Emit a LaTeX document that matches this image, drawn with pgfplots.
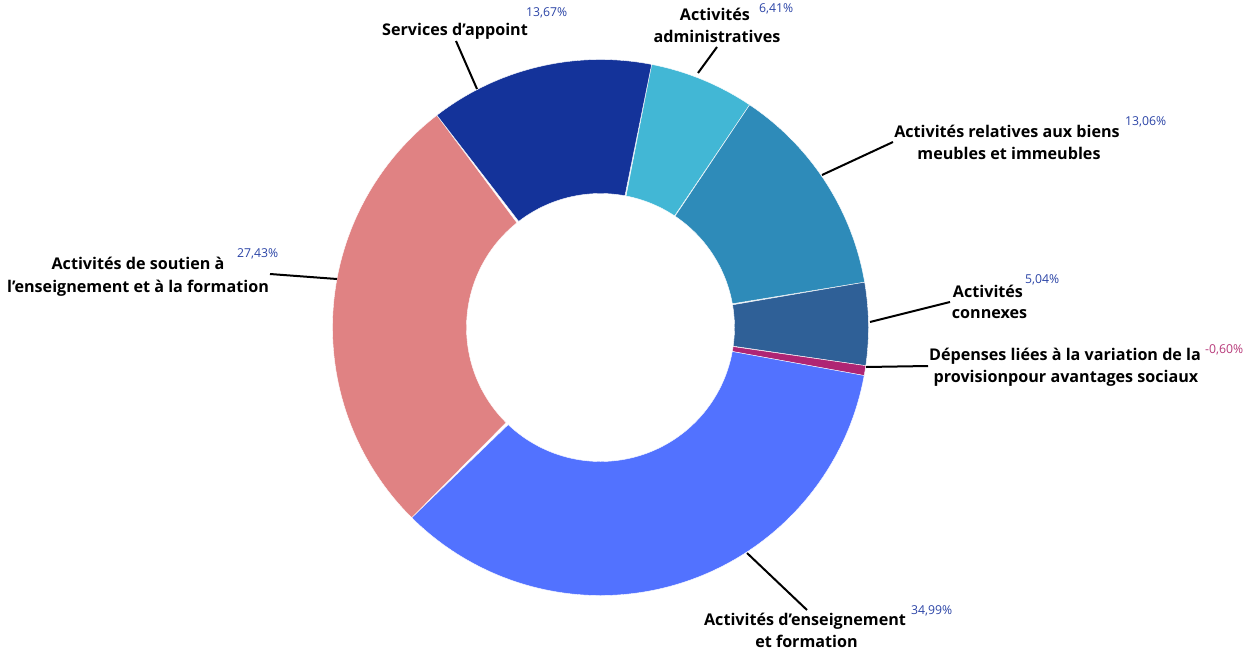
\documentclass[border=0pt]{standalone}
\usepackage{pgfplots}
\pgfplotsset{compat=1.18}
\usepackage{pgfplotstable}
\usepackage{fontspec}
\setmainfont{Open Sans}
\definecolor{sl0}{HTML}{42B7D5}
\definecolor{sl1}{HTML}{2E8BB9}
\definecolor{sl2}{HTML}{2F6097}
\definecolor{sl3}{HTML}{AF2573}
\definecolor{sl4}{HTML}{5272FF}
\definecolor{sl5}{HTML}{E08283}
\definecolor{sl6}{HTML}{14339A}
\definecolor{pctblue}{HTML}{2B44A6}
\definecolor{pctmag}{HTML}{B73A7A}

% slice values (percent), clockwise order starting with "Activites administratives"
\pgfplotstableread[col sep=comma]{
name,value
admin,6.41
relatives,13.06
connexes,5.04
depenses,-0.60
enseignement,34.99
soutien,27.43
services,13.67
}\slices

\newcommand\startang{79}
\xdef\tot{0}
\foreach \i in {0,...,6}{%
  \pgfplotstablegetelem{\i}{value}\of\slices
  \pgfmathsetmacro\tmp{\tot+abs(\pgfplotsretval)}%
  \global\let\tot\tmp}
\xdef\cur{\startang}
\foreach \i in {0,...,6}{%
  \pgfplotstablegetelem{\i}{value}\of\slices
  \pgfmathsetmacro\nxt{\cur-360*abs(\pgfplotsretval)/\tot}%
  \expandafter\xdef\csname sa\i\endcsname{\cur}%
  \expandafter\xdef\csname ea\i\endcsname{\nxt}%
  \global\let\cur\nxt}

\newcommand\lab[1]{\fontsize{16.2}{19}\selectfont\bfseries #1}
\newcommand\pct{\fontsize{12.3}{14}\selectfont}

\begin{document}
\begin{tikzpicture}
\begin{axis}[name=ax, at={(0,0)}, anchor=south west,
  width=1246bp, height=655bp, scale only axis, hide axis,
  xmin=0, xmax=1246, ymin=0, ymax=655, y dir=reverse, clip=false]
\pgfplotsinvokeforeach{0,...,6}{%
  \edef\doslice{\noexpand\addplot[fill=sl#1, draw=white, line width=0.4pt,
    domain=0:2, samples=201, variable=\noexpand\t]
    ({600.5+(268-134*(\noexpand\t>1.005))*cos(\csname sa#1\endcsname+(\csname ea#1\endcsname-\csname sa#1\endcsname)*(1-abs(\noexpand\t-1)))},
     {327.5-(268-134*(\noexpand\t>1.005))*sin(\csname sa#1\endcsname+(\csname ea#1\endcsname-\csname sa#1\endcsname)*(1-abs(\noexpand\t-1)))}) -- cycle;}%
  \doslice
}
% connector lines
\addplot[black, line width=2bp] coordinates {(456,41) (477,89)};
\addplot[black, line width=2bp] coordinates {(717,47) (698,73)};
\addplot[black, line width=2bp] coordinates {(822,175) (893,142)};
\addplot[black, line width=2bp] coordinates {(870,322) (950,302)};
\addplot[black, line width=2bp] coordinates {(866,367) (928,366)};
\addplot[black, line width=2bp] coordinates {(270,274) (337,279)};
\addplot[black, line width=2bp] coordinates {(747,553) (807,610)};
% labels
\node[anchor=base] at (axis cs:455,36) {\lab{Services d’appoint}};
\node[anchor=base west, text=pctblue, inner sep=0pt] at (axis cs:526,17) {\pct 13,67\%};
\node[anchor=base] at (axis cs:715,21) {\lab{Activités}};
\node[anchor=base] at (axis cs:717,43) {\lab{administratives}};
\node[anchor=base west, text=pctblue, inner sep=0pt] at (axis cs:759,13) {\pct 6,41\%};
\node[anchor=base] at (axis cs:1007,137) {\lab{Activités relatives aux biens}};
\node[anchor=base] at (axis cs:1009,159) {\lab{meubles et immeubles}};
\node[anchor=base west, text=pctblue, inner sep=0pt] at (axis cs:1125,125) {\pct 13,06\%};
\node[anchor=base] at (axis cs:988,297) {\lab{Activités}};
\node[anchor=base] at (axis cs:989.5,318) {\lab{connexes}};
\node[anchor=base west, text=pctblue, inner sep=0pt] at (axis cs:1025,283) {\pct 5,04\%};
\node[anchor=base] at (axis cs:1065,360) {\lab{Dépenses liées à la variation de la}};
\node[anchor=base] at (axis cs:1066,382) {\lab{provisionpour avantages sociaux}};
\node[anchor=base west, text=pctmag, inner sep=0pt] at (axis cs:1205,353) {\pct -0,60\%};
\node[anchor=base] at (axis cs:138,269) {\lab{Activités de soutien à}};
\node[anchor=base] at (axis cs:138,292) {\lab{l’enseignement et à la formation}};
\node[anchor=base west, text=pctblue, inner sep=0pt] at (axis cs:237,257) {\pct 27,43\%};
\node[anchor=base] at (axis cs:805,625) {\lab{Activités d’enseignement}};
\node[anchor=base] at (axis cs:806.5,647) {\lab{et formation}};
\node[anchor=base west, text=pctblue, inner sep=0pt] at (axis cs:911,614) {\pct 34,99\%};
\end{axis}
\pgfresetboundingbox
\path (ax.south west) rectangle (ax.north east);
\end{tikzpicture}
\end{document}
